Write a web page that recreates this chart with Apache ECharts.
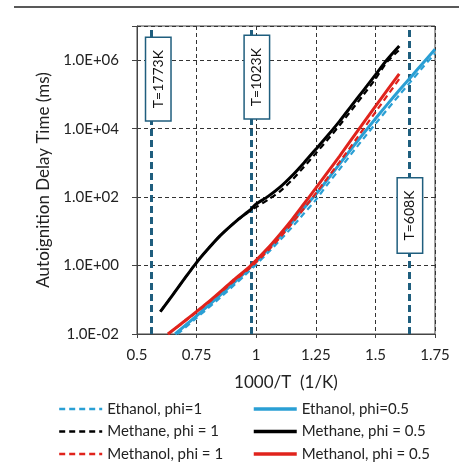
<!DOCTYPE html>
<html>
<head>
<meta charset="utf-8">
<script src="https://cdn.jsdelivr.net/npm/echarts@6/dist/echarts.min.js"></script>
<style>
  html, body { margin: 0; padding: 0; background: #fff; }
  #chart { width: 459px; height: 465px; }
</style>
</head>
<body>
<div id="chart"></div>
<script>
// 1000/T (1/K) and delay time (ms)
const methaneX = [0.598, 0.65, 0.7, 0.74, 0.78, 0.85, 0.92, 0.975, 0.985, 1.0, 1.05, 1.1, 1.15, 1.2, 1.25, 1.3, 1.35, 1.4, 1.45, 1.5, 1.547, 1.6];
const methane05 = [0.045, 0.14, 0.42, 1.0, 2.2, 7.6, 21, 42, 50, 63, 105, 195, 420, 1000, 2500, 6300, 16600, 47000, 132000, 372000, 1.0e6, 2.6e6];
const methane1 = [0.045, 0.14, 0.42, 1.0, 2.2, 7.6, 21, 40, 45, 51, 84, 148, 316, 760, 1900, 4800, 12600, 35000, 98000, 282000, 8.6e5, 2.0e6];

const methanolX = [0.63, 0.7, 0.8, 0.9, 0.977, 1.05, 1.1, 1.15, 1.2, 1.25, 1.3, 1.35, 1.424, 1.5, 1.6];
const methanol05 = [0.0100, 0.024, 0.087, 0.35, 1.0, 3.3, 8.3, 22, 63, 182, 537, 1585, 8300, 44700, 398000];
const methanol1 = [0.0100, 0.0234, 0.083, 0.32, 0.89, 2.75, 6.6, 17, 46, 129, 372, 1070, 5500, 30200, 282000];

const ethanol05X = [0.66, 0.75, 0.85, 0.95, 1.0, 1.05, 1.1, 1.15, 1.2, 1.25, 1.3, 1.35, 1.4, 1.45, 1.5, 1.55, 1.6, 1.65, 1.7, 1.75];
const ethanol05 = [0.010, 0.034, 0.138, 0.60, 1.32, 3.0, 7.2, 18.2, 47.9, 120, 331, 933, 2630, 7240, 19500, 51300, 132000, 331000, 832000, 2.09e6];
const ethanol1X = [0.67, 0.75, 0.85, 0.95, 1.0, 1.05, 1.1, 1.15, 1.2, 1.25, 1.3, 1.35, 1.4, 1.45, 1.5, 1.55, 1.6, 1.65, 1.7, 1.75];
const ethanol1 = [0.010, 0.0295, 0.117, 0.50, 1.07, 2.4, 5.5, 13.2, 33, 83, 240, 660, 1860, 5130, 13800, 36300, 95500, 245000, 631000, 1.58e6];

// marked temperatures (K) and where their tags sit on the delay axis
const markTemps = [1773, 1023, 608];
const markTagY = [2.8e5, 3.2e5, 29];

const xTicks = [0.5, 0.75, 1, 1.25, 1.5, 1.75];

const BLUE = '#2A9FD4';
const RED = '#E0231C';
const BLACK = '#000000';
const TEAL = '#1F5E7E';
const FONT = 'Lato';

const pairs = (xs, ys) => xs.map((x, i) => [x, ys[i]]);

function fmtExp(v) {
    const e = Math.round(Math.log10(v));
    if (e > 6) return '';
    const s = String(Math.abs(e)).padStart(2, '0');
    return '1.0E' + (e < 0 ? '-' : '+') + s;
}

function line(name, xs, ys, color, dashed) {
    return {
        name: name,
        type: 'line',
        data: pairs(xs, ys),
        symbol: 'none',
        smooth: 0.25,
        clip: true,
        lineStyle: {
            color: color,
            width: dashed ? 2.2 : 3,
            type: dashed ? [6, 4] : 'solid'
        },
        itemStyle: { color: color }
    };
}

const legendBase = {
    orient: 'vertical',
    top: 400,
    padding: 0,
    itemWidth: 43, itemHeight: 14, itemGap: 4.5,
    itemStyle: { opacity: 0 },
    textStyle: { fontSize: 15, color: '#222', lineHeight: 18, fontFamily: FONT }
};

const chart = echarts.init(document.getElementById('chart'), null, { renderer: 'canvas' });

const option = {
    animation: false,
    backgroundColor: '#fff',
    textStyle: { fontFamily: FONT },
    graphic: [{
        type: 'line',
        shape: { x1: 14, y1: 7, x2: 459, y2: 7 },
        style: { stroke: '#222', lineWidth: 1.5 }
    }],
    grid: {
        left: 137, right: 24, top: 26, bottom: 131,
        show: true, borderColor: '#444', borderWidth: 1,
        backgroundColor: '#fff'
    },
    xAxis: {
        type: 'value',
        min: 0.5, max: 1.75, interval: 0.25,
        name: '1000/T  (1/K)',
        nameLocation: 'middle',
        nameGap: 40,
        nameTextStyle: { fontSize: 17, color: '#222', fontFamily: FONT },
        axisLine: { show: true, onZero: false, lineStyle: { color: '#444' } },
        axisTick: { show: true, length: 4, lineStyle: { color: '#444' } },
        axisLabel: {
            fontSize: 15, color: '#222', margin: 14, fontFamily: FONT,
            formatter: v => String(xTicks.find(t => Math.abs(t - v) < 1e-6) ?? v)
        },
        splitLine: { show: true, lineStyle: { color: '#333', width: 1, type: [4, 3] } }
    },
    yAxis: {
        type: 'log',
        logBase: 100,
        min: 0.01, max: 1e7,
        name: 'Autoignition Delay Time (ms)',
        nameLocation: 'middle',
        nameGap: 77,
        nameTextStyle: { fontSize: 17, color: '#222', fontFamily: FONT },
        axisLine: { show: true, lineStyle: { color: '#444' } },
        axisTick: { show: true, length: 5, lineStyle: { color: '#444' } },
        axisLabel: { fontSize: 15, color: '#222', margin: 18, fontFamily: FONT, formatter: fmtExp },
        splitLine: { show: true, lineStyle: { color: '#333', width: 1, type: [4, 3] } }
    },
    legend: [
        Object.assign({}, legendBase, {
            left: 58,
            lineStyle: { width: 2.4 },
            data: ['Ethanol, phi=1', 'Methane, phi = 1', 'Methanol, phi = 1']
        }),
        Object.assign({}, legendBase, {
            left: 252,
            lineStyle: { width: 3.5 },
            data: ['Ethanol, phi=0.5', 'Methane, phi = 0.5', 'Methanol, phi = 0.5']
        })
    ],
    series: [
        line('Ethanol, phi=1', ethanol1X, ethanol1, BLUE, true),
        line('Ethanol, phi=0.5', ethanol05X, ethanol05, BLUE, false),
        line('Methanol, phi = 1', methanolX, methanol1, RED, true),
        line('Methanol, phi = 0.5', methanolX, methanol05, RED, false),
        line('Methane, phi = 1', methaneX, methane1, BLACK, true),
        line('Methane, phi = 0.5', methaneX, methane05, BLACK, false),
        {
            // temperature markers
            type: 'line',
            data: [],
            silent: true,
            z: 1,
            markLine: {
                silent: true,
                z: 1,
                symbol: 'none',
                label: { show: false },
                lineStyle: { color: TEAL, width: 3, type: [7, 4] },
                data: markTemps.map(t => ({ xAxis: 1000 / t }))
            }
        },
        {
            type: 'scatter',
            silent: true,
            symbolSize: 0,
            itemStyle: { color: TEAL },
            z: 10,
            data: markTemps.map((t, i) => ({
                value: [1000 / t, markTagY[i]],
                label: { offset: i < 2 ? [0, 6] : [0, 0] }
            })),
            label: {
                show: true,
                position: 'inside',
                rotate: 90,
                formatter: p => 'T=' + markTemps[p.dataIndex] + 'K',
                fontSize: 14,
                fontFamily: FONT,
                color: '#111',
                opacity: 1,
                textBorderWidth: 0,
                backgroundColor: '#fff',
                borderColor: TEAL,
                borderWidth: 1.5,
                padding: [5, 12]
            }
        }
    ]
};

chart.setOption(option);
</script>
</body>
</html>
